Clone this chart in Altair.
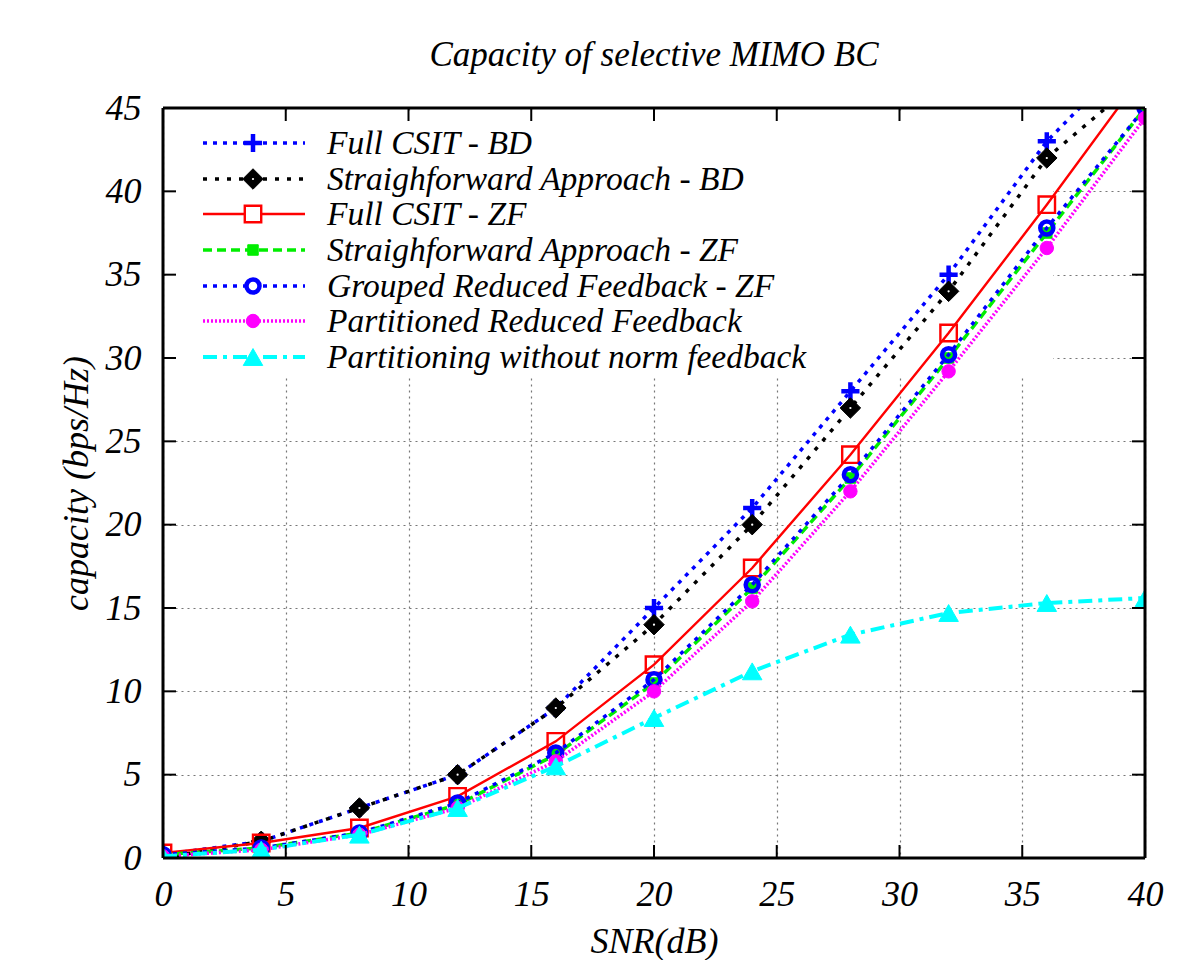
import altair as alt
import pandas as pd

snr = [0, 4, 8, 12, 16, 20, 24, 28, 32, 36, 40]

series_names = [
    "Full CSIT - BD",
    "Straighforward Approach - BD",
    "Full CSIT - ZF",
    "Straighforward Approach - ZF",
    "Grouped Reduced Feedback - ZF",
    "Partitioned Reduced Feedback",
    "Partitioning without norm feedback",
]

full_bd = [0.2, 1.0, 3.0, 5.0, 9.0, 15.0, 21.0, 28.0, 35.0, 43.0, 49.0]
straight_bd = [0.0, 1.0, 3.0, 5.0, 9.0, 14.0, 20.0, 27.0, 34.0, 42.0, 47.0]
full_zf = [0.3, 0.9, 1.8, 3.7, 7.0, 11.6, 17.4, 24.2, 31.5, 39.2, 47.2]
straight_zf = [0.2, 0.6, 1.5, 3.2, 6.2, 10.5, 16.2, 22.8, 30.0, 37.5, 45.0]
grouped_zf = [0.2, 0.6, 1.5, 3.3, 6.3, 10.7, 16.4, 23.0, 30.2, 37.8, 45.0]
partitioned = [0.1, 0.5, 1.4, 3.0, 5.8, 10.0, 15.4, 22.0, 29.2, 36.6, 44.4]
partition_no_norm = [0.1, 0.5, 1.4, 3.0, 5.5, 8.4, 11.2, 13.4, 14.7, 15.3, 15.6]

values = [full_bd, straight_bd, full_zf, straight_zf, grouped_zf, partitioned, partition_no_norm]

x_ticks = [0, 5, 10, 15, 20, 25, 30, 35, 40]
y_ticks = [0, 5, 10, 15, 20, 25, 30, 35, 40, 45]

W, H = 982, 750
FONT = "'Liberation Serif', 'Times New Roman', Times, serif"

PLUS = "M-1,0L1,0M0,-1L0,1"

styles = [
    dict(color="#0000ff", dash=[4, 6], width=3.5, shape=PLUS, filled=False, size=330, sw=4.5),
    dict(color="#000000", dash=[4, 8], width=3.5, shape="diamond", filled=True, size=420, sw=1),
    dict(color="#ff0000", dash=None, width=2.4, shape="square", filled=False, size=270, sw=2.4),
    dict(color="#00ee00", dash=[9, 5], width=3.5, shape="square", filled=True, size=110, sw=1),
    dict(color="#0000ff", dash=[4, 6], width=3.5, shape="circle", filled=False, size=170, sw=4.5),
    dict(color="#ff00ff", dash=[2, 2], width=3.5, shape="circle", filled=True, size=180, sw=1),
    dict(color="#00ffff", dash=[14, 6, 4, 6], width=4, shape="triangle-up", filled=True, size=380, sw=1),
]

axis_common = dict(
    ticks=False, domain=False, grid=True,
    gridDash=[2, 4], gridColor="#777777", gridWidth=1.2,
    labelFont=FONT, labelFontStyle="italic", labelFontSize=36, labelColor="black",
    labelFlush=False,
    titleFont=FONT, titleFontStyle="italic", titleFontSize=36, titleFontWeight="normal",
    titleColor="black",
)

base_x = alt.X(
    "snr:Q",
    scale=alt.Scale(domain=[0, 40], nice=False, zero=False),
    axis=alt.Axis(values=x_ticks, title="SNR(dB)", labelPadding=19, titlePadding=12,
                  **axis_common),
)
base_y = alt.Y(
    "cap:Q",
    scale=alt.Scale(domain=[0, 45], nice=False, zero=False),
    axis=alt.Axis(values=y_ticks, title="capacity (bps/Hz)", labelPadding=22,
                  titlePadding=10, **axis_common),
)

one = pd.DataFrame({"k": [0]})

layers = []

# grid carrier layer (axes)
grid_df = pd.DataFrame({"snr": [0, 40], "cap": [0, 45]})
layers.append(alt.Chart(grid_df).mark_point(opacity=0).encode(x=base_x, y=base_y))

# opaque key box
layers.append(
    alt.Chart(one).mark_rect(color="white").encode(
        x=alt.value(3), x2=alt.value(890), y=alt.value(3), y2=alt.value(269)
    )
)

# data
for name, vals, st in zip(series_names, values, styles):
    df = pd.DataFrame({"snr": snr, "cap": vals, "series": name})
    line_kw = dict(color=st["color"], strokeWidth=st["width"], clip=True)
    if st["dash"]:
        line_kw["strokeDash"] = st["dash"]
    layers.append(alt.Chart(df).mark_line(**line_kw).encode(
        x=alt.X("snr:Q"), y=alt.Y("cap:Q")))
    pt_kw = dict(shape=st["shape"], size=st["size"], filled=st["filled"], clip=True,
                 opacity=1, strokeWidth=st["sw"], stroke=st["color"],
                 fill=st["color"] if st["filled"] else "transparent")
    layers.append(alt.Chart(df).mark_point(**pt_kw).encode(
        x=alt.X("snr:Q"), y=alt.Y("cap:Q")))
    if st["shape"] == "diamond":
        layers.append(alt.Chart(df).mark_point(shape="circle", size=5, filled=True,
                                                fill="white", stroke="white", strokeWidth=0,
                                                clip=True, opacity=1).encode(
            x=alt.X("snr:Q"), y=alt.Y("cap:Q")))

# legend
row_y = [35, 71, 106, 142, 178, 213, 249]
for name, st, ry in zip(series_names, styles, row_y):
    rule_kw = dict(color=st["color"], strokeWidth=st["width"])
    if st["dash"]:
        rule_kw["strokeDash"] = st["dash"]
    layers.append(alt.Chart(one).mark_rule(**rule_kw).encode(
        x=alt.value(40), x2=alt.value(142), y=alt.value(ry)))
    pt_kw = dict(shape=st["shape"], size=st["size"], filled=st["filled"], opacity=1,
                 strokeWidth=st["sw"], stroke=st["color"],
                 fill=st["color"] if st["filled"] else "white")
    layers.append(alt.Chart(one).mark_point(**pt_kw).encode(
        x=alt.value(90), y=alt.value(ry)))
    if st["shape"] == "diamond":
        layers.append(alt.Chart(one).mark_point(shape="circle", size=5, filled=True,
                                                fill="white", stroke="white", strokeWidth=0,
                                                opacity=1).encode(
            x=alt.value(90), y=alt.value(ry)))
    layers.append(alt.Chart(pd.DataFrame({"label": [name]})).mark_text(
        align="left", baseline="middle", font=FONT, fontStyle="italic", fontSize=33.5,
        color="black").encode(x=alt.value(164), y=alt.value(ry + 1), text="label:N"))

# inward ticks
xt = pd.DataFrame({"snr": x_ticks})
yt = pd.DataFrame({"cap": y_ticks})
layers.append(alt.Chart(xt).mark_rule(color="black", strokeWidth=2).encode(
    x="snr:Q", y=alt.value(H), y2=alt.value(H - 13)))
layers.append(alt.Chart(xt).mark_rule(color="black", strokeWidth=2).encode(
    x="snr:Q", y=alt.value(0), y2=alt.value(13)))
layers.append(alt.Chart(yt).mark_rule(color="black", strokeWidth=2).encode(
    y="cap:Q", x=alt.value(0), x2=alt.value(13)))
layers.append(alt.Chart(yt).mark_rule(color="black", strokeWidth=2).encode(
    y="cap:Q", x=alt.value(W), x2=alt.value(W - 13)))

# frame
fw = 3
layers.append(alt.Chart(one).mark_rule(color="black", strokeWidth=fw).encode(
    x=alt.value(0), x2=alt.value(W), y=alt.value(0)))
layers.append(alt.Chart(one).mark_rule(color="black", strokeWidth=fw).encode(
    x=alt.value(0), x2=alt.value(W), y=alt.value(H)))
layers.append(alt.Chart(one).mark_rule(color="black", strokeWidth=fw).encode(
    x=alt.value(0), y=alt.value(0), y2=alt.value(H)))
layers.append(alt.Chart(one).mark_rule(color="black", strokeWidth=fw).encode(
    x=alt.value(W), y=alt.value(0), y2=alt.value(H)))

chart = alt.layer(*layers).properties(
    width=W, height=H,
    title=alt.Title("Capacity of selective MIMO BC", font=FONT, fontStyle="italic",
                    fontSize=35, fontWeight="normal", color="black", anchor="middle",
                    offset=17),
    autosize=alt.AutoSizeParams(type="none"),
    padding={"left": 155, "top": 100, "right": 40, "bottom": 102},
).configure_view(stroke=None).configure(background="white")

chart.save("out.html", embed_options={"renderer": "svg", "actions": False})
